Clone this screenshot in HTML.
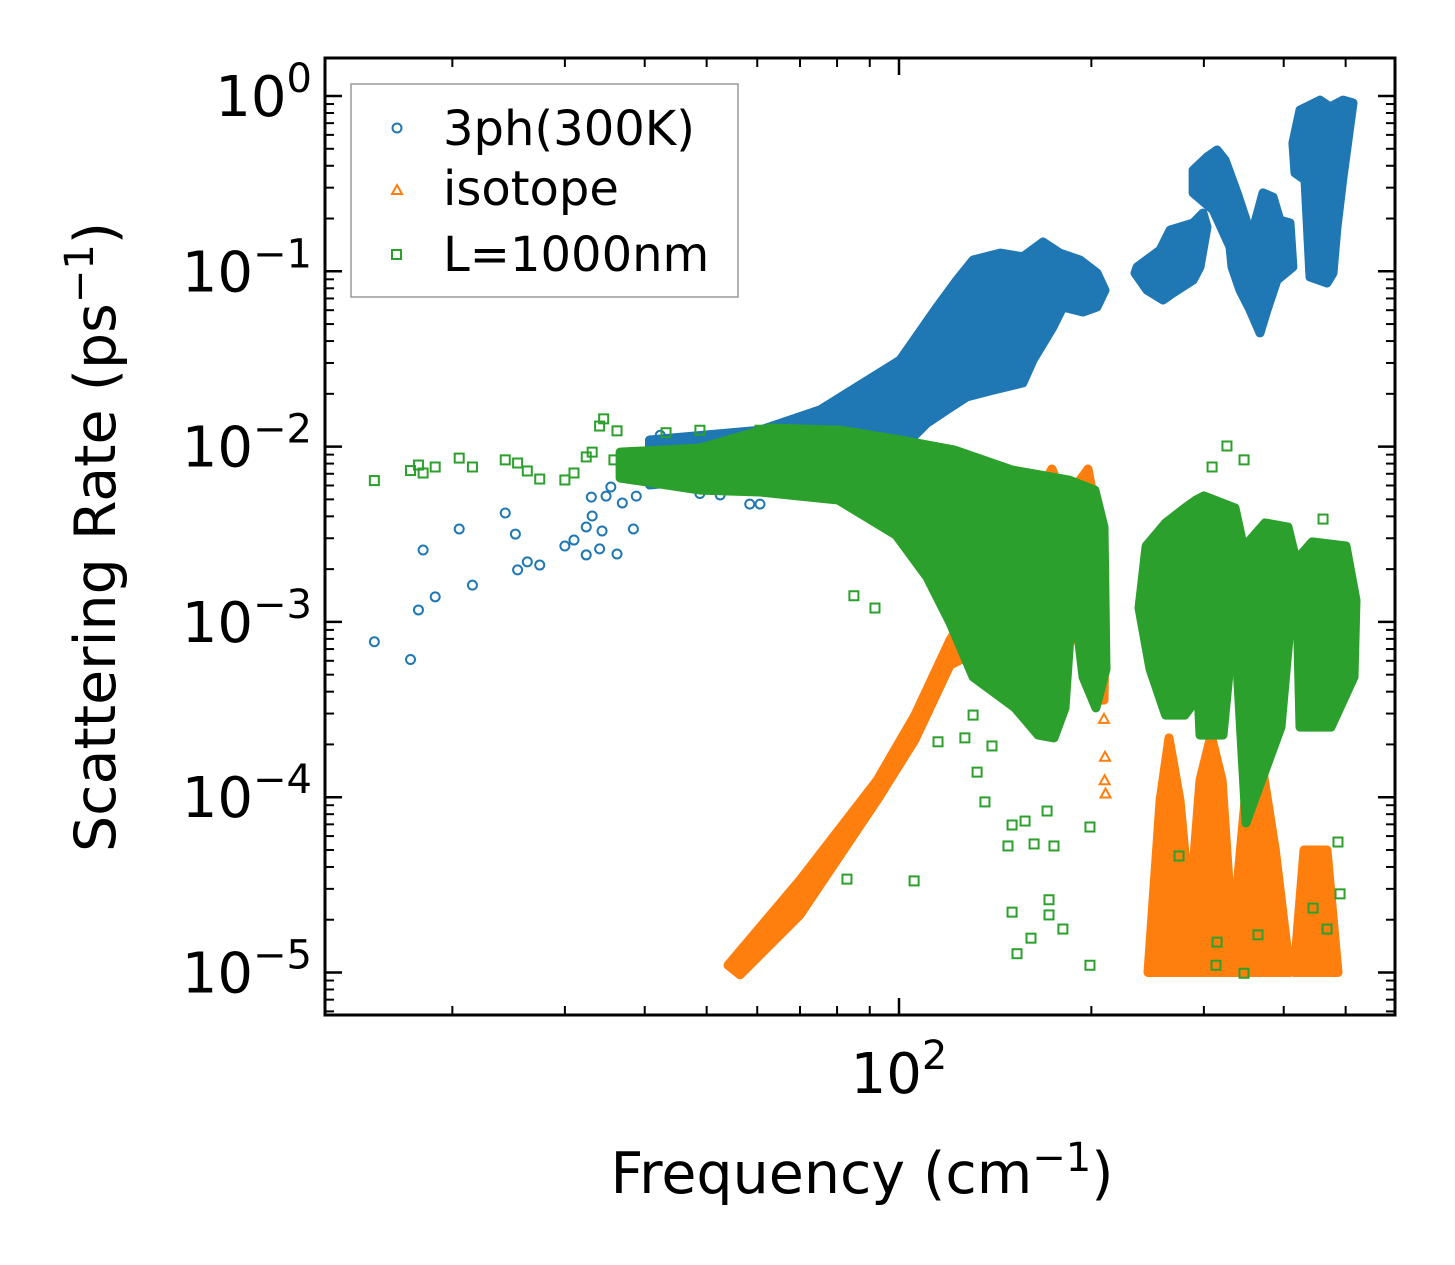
<!DOCTYPE html>
<html><head><meta charset="utf-8"><style>
html,body{margin:0;padding:0;background:#fff;}
svg{display:block;font-family:"DejaVu Sans","Liberation Sans",sans-serif;}
</style></head><body>
<svg id="chart" width="1455" height="1265" viewBox="0 0 1455 1265" xmlns="http://www.w3.org/2000/svg">
<rect width="1455" height="1265" fill="#fff"/>
<g id="marks"></g>
<g id="axes"></g>
<text x="862" y="1193" font-size="57" text-anchor="middle">Frequency (cm<tspan dy="-22" font-size="40">−1</tspan><tspan dy="22">)</tspan></text>
<text transform="translate(115,537) rotate(-90)" font-size="57" text-anchor="middle">Scattering Rate (ps<tspan dy="-22" font-size="40">−1</tspan><tspan dy="22">)</tspan></text>
<g>
<rect x="351" y="84" width="387" height="213" fill="#fff" fill-opacity="0.8" stroke="#999" stroke-width="1.5"/>
<circle cx="397" cy="128" r="4.5" fill="none" stroke="#1f77b4" stroke-width="2"/>
<text x="443" y="145" font-size="48">3ph(300K)</text>
<path d="M397,185 L402,194 L392,194 Z" fill="none" stroke="#ff7f0e" stroke-width="2"/>
<text x="443" y="205" font-size="48">isotope</text>
<rect x="392" y="250" width="9" height="9" fill="none" stroke="#2ca02c" stroke-width="2"/>
<text x="443" y="271" font-size="48">L=1000nm</text>
</g>
</svg>
<script>
// ---- data (frequency cm^-1, rate ps^-1) ----
const xTicksMajor = [100];
const xTickExp = ["2"];
const xTicksMinor = [20,30,40,50,60,70,80,90,200,300,400,500];
const yDecades = [0,-1,-2,-3,-4,-5];
const yTickExp = ["0","−1","−2","−3","−4","−5"];

const blueFreq = [15.1,17.2,18.0,17.7,18.8,20.5,21.5,24.2,25.1,25.3,26.2,27.4,30.0,31.0,32.4,32.4,33.1,34.0,34.3,36.2,38.4,33.0,34.8,35.4,36.9,38.8,42.3,45.5,48.8,52.5,56.4,58.4,60.6,42.3,47,40.2];
const blueRate = [7.7e-4,6.1e-4,2.57e-3,1.17e-3,1.39e-3,3.39e-3,1.62e-3,4.18e-3,3.17e-3,1.98e-3,2.2e-3,2.11e-3,2.71e-3,2.93e-3,2.41e-3,3.48e-3,4.02e-3,2.61e-3,3.30e-3,2.44e-3,3.39e-3,5.15e-3,5.22e-3,5.88e-3,4.77e-3,5.22e-3,1.16e-2,1.0e-2,5.4e-3,5.3e-3,9.5e-3,4.7e-3,4.7e-3,7.4e-3,7.8e-3,6.6e-3];

const blueMain = [[40.7,0.0109],[60.6,0.0124],[75.2,0.0162],[100.4,0.0312],[114.7,0.0626],[123.2,0.0891],[130.6,0.116],[144,0.127],[156.3,0.121],[168,0.147],[178.6,0.127],[192,0.116],[204.1,0.0978],[210.1,0.078],[204.1,0.0626],[194.1,0.0586],[180.5,0.0626],[174.2,0.0481],[162.1,0.0312],[156.3,0.0231],[140.3,0.021],[127.7,0.0192],[118.9,0.0162],[110.6,0.0136],[105.2,0.01135],[100.4,0.0102],[75.2,0.00896],[60.6,0.00735],[48.8,0.00645],[40.7,0.00604]];
const blueC2 = [[235.8,.1058],[256.2,.1323],[265.6,.172],[288.6,.1886],[299.1,.215],[303.4,.179],[295.8,.1058],[288.6,.0891],[268.5,.0752],[259.0,.0686],[244.4,.078],[234.1,.0978]];
const blueC3 = [[288.6,.378],[303.4,.449],[314.6,.492],[323.8,.431],[338.1,.280],[350.5,.1886],[358.1,.172],[371.2,.280],[384.8,.265],[394.6,.196],[409.1,.1886],[413.5,.1058],[390.4,.0891],[376.6,.0602],[367.2,.0445],[354.3,.0602],[341.7,.078],[332.0,.1058],[329.6,.1377],[310.1,.224],[288.6,.280]];
const blueC4 = [[413.5,.539],[424.2,.832],[455.9,.948],[472.6,.865],[495.3,.948],[513.5,.912],[495.3,.345],[484.7,.179],[477.8,.0978],[467.6,.0858],[439.7,.0928],[431.9,.332],[416.6,.364]];

const orangeDiag = [[54.0,.000011],[70.0,.0000337],[92.4,.000125],[105.9,.000294],[120.2,.00079],[144,.00225],[166.2,.00565],[173.5,.00745],[181.9,.00496],[192,.00645],[197.6,.00745],[206,.00334],[210.1,.00079],[209.3,.000358],[204.9,.000358],[192,.00079],[178.6,.00079],[144,.00079],[120.2,.000567],[105.9,.000212],[92.4,.000096],[70.0,.0000213],[56.4,.0000097]];
const orangeP1 = [[245.3,1e-5],[256.2,9.6e-5],[264.6,.000218],[275.3,9.6e-5],[291.6,1e-5]];
const orangeP2 = [[280.2,1e-5],[295.8,.000125],[307.9,.000226],[320.3,.000125],[335.6,1e-5]];
const orangeP3 = [[328.6,1e-5],[347.9,9.6e-5],[369.9,.000153],[388,5e-5],[409.1,1e-5]];
const orangeP4 = [[415.1,1e-5],[430.3,5e-5],[467.6,5e-5],[486.4,1e-5]];
const orangeFreq = [209.3,210.1,209.8,210.5];
const orangeRate = [2.8e-4,1.7e-4,1.25e-4,1.05e-4];

const greenMain = [[36.6,.0093],[48.8,.0098],[62.8,.01277],[80.9,.0124],[100.4,.0109],[121.9,.00957],[150.3,.00735],[184.5,.00645],[202.6,.00565],[209.3,.00348],[210.8,.000538],[203.3,.000323],[194.1,.000485],[187.2,.00148],[181.9,.000323],[174.8,.000218],[165.1,.000226],[151.9,.000323],[130.6,.000485],[120.2,.000986],[110.6,.0018],[98.9,.00313],[80.3,.00496],[60.6,.00551],[48.8,.00565],[36.6,.00662]];
const greenA = [[237.5,.0012],[243.6,.00271],[261.3,.00367],[280.2,.00447],[291.6,.00496],[291.6,.000358],[280.2,.000294],[261.3,.000294],[247.1,.000538]];
const greenB = [[291.6,.00496],[300.1,.00523],[335.6,.00447],[344.2,.00293],[321.4,.000226],[295.8,.000226],[291.6,.000692]];
const greenC = [[335.6,.000888],[354.3,.00293],[373.9,.00367],[406.2,.00348],[418.1,.00225],[396.1,.000251],[349.2,.0000713]];
const greenD = [[418.1,.00225],[443,.00286],[500.7,.00271],[519.1,.00133],[515.3,.000485],[474.3,.000251],[424.2,.000251]];
const greenFreq = [15.1,17.2,17.7,18.0,18.8,20.5,21.5,24.2,25.3,26.2,27.4,30.0,31.0,32.4,33.1,34.0,34.5,36.2,35.8,41.4,39.4,43.2,48.8,60.6,
 85.0,91.7,115.1,126.8,130.6,139.8,132.5,136.3,150.3,157.5,148.1,162.7,174.8,170.5,82.9,105.6,150.3,171.7,160.9,171.7,180.5,153.0,199.0,199.0,326.0,346.7,309.0,460.9,274.3,314.6,346.7,364.6,444.6,467.6,490.0,486.4,313.4];
const greenRate = [6.4e-3,7.3e-3,7.85e-3,7.07e-3,7.65e-3,8.6e-3,7.65e-3,8.4e-3,8.06e-3,7.26e-3,6.53e-3,6.45e-3,7.07e-3,8.73e-3,9.3e-3,1.31e-2,1.44e-2,1.23e-2,8.4e-3,8.73e-3,8.2e-3,1.2e-2,1.24e-2,1.24e-2,
 .00141,.0012,.000207,.000218,.000294,.000196,.000139,.000094,.0000694,.0000731,.0000527,.0000541,.0000527,.0000834,.0000341,.0000333,.0000221,.000026,.0000157,.0000213,.0000177,.0000128,.000011,.0000676,.01008,.0084,.00765,.00386,.0000462,.0000149,.0000099,.0000164,.0000233,.0000177,.0000281,.0000555,.000011];

// ---- axis functions ----
const PL=325, PR=1395, PT=58, PB=1015;
function X(f){return 899+(Math.log10(f)-2)*639;}
function Y(r){return 96-Math.log10(r)*175.3;}
const NS="http://www.w3.org/2000/svg";
const marks=document.getElementById('marks');
const axes=document.getElementById('axes');
function mk(tag,attrs,parent){const e=document.createElementNS(NS,tag);for(const k in attrs)e.setAttribute(k,attrs[k]);if(parent)parent.appendChild(e);return e;}

const defs=mk('defs',{},marks);
const cp=mk('clipPath',{id:'pc'},defs);
mk('rect',{x:PL,y:PT,width:PR-PL,height:PB-PT},cp);
const gB=mk('g',{'clip-path':'url(#pc)'},marks);


const gO=mk('g',{'clip-path':'url(#pc)'},marks);


const gG=mk('g',{'clip-path':'url(#pc)'},marks);



function cloud(g,pts,col,name){
  const d=pts.map((p,i)=>(i?'L':'M')+X(p[0]).toFixed(1)+','+Y(p[1]).toFixed(1)).join(' ')+'Z';
  const e=mk('path',{d:d,fill:col,stroke:col,'stroke-width':9,'stroke-linejoin':'round'},g);
  
  
}
cloud(gB,blueMain,'#1f77b4','cloud-3ph-main');
cloud(gB,blueC2,'#1f77b4','cloud-3ph-2');
cloud(gB,blueC3,'#1f77b4','cloud-3ph-3');
cloud(gB,blueC4,'#1f77b4','cloud-3ph-4');
for(let i=0;i<blueFreq.length;i++){
  const c=mk('circle',{cx:X(blueFreq[i]),cy:Y(blueRate[i]),r:4.5,fill:'none',stroke:'#1f77b4','stroke-width':2},gB);
  
  
}
cloud(gO,orangeDiag,'#ff7f0e','cloud-isotope-diag');
cloud(gO,orangeP1,'#ff7f0e','cloud-isotope-1');
cloud(gO,orangeP2,'#ff7f0e','cloud-isotope-2');
cloud(gO,orangeP3,'#ff7f0e','cloud-isotope-3');
cloud(gO,orangeP4,'#ff7f0e','cloud-isotope-4');
for(let i=0;i<orangeFreq.length;i++){
  const x=X(orangeFreq[i]),y=Y(orangeRate[i]);
  const t=mk('path',{d:`M${x},${y-5} L${x+5},${y+4} L${x-5},${y+4} Z`,fill:'none',stroke:'#ff7f0e','stroke-width':2},gO);
  
  
}
cloud(gG,greenMain,'#2ca02c','cloud-boundary-main');
cloud(gG,greenA,'#2ca02c','cloud-boundary-a');
cloud(gG,greenB,'#2ca02c','cloud-boundary-b');
cloud(gG,greenC,'#2ca02c','cloud-boundary-c');
cloud(gG,greenD,'#2ca02c','cloud-boundary-d');
for(let i=0;i<greenFreq.length;i++){
  const s=mk('rect',{x:X(greenFreq[i])-4.5,y:Y(greenRate[i])-4.5,width:9,height:9,fill:'none',stroke:'#2ca02c','stroke-width':2},gG);
  
  
}

// ---- axes ----
const frame=mk('rect',{x:PL,y:PT,width:PR-PL,height:PB-PT,fill:'none',stroke:'#000','stroke-width':3},axes);


function tick(x1,y1,x2,y2,w,name){const t=mk('line',{x1,y1,x2,y2,stroke:'#000','stroke-width':w},axes);}
function powLabel(x,y,exp,anchor,name){
  const t=mk('text',{x:x,y:y,'font-size':56,'text-anchor':anchor},axes);
  
  
  const a=mk('tspan',{},t); a.textContent='10';
  const b=mk('tspan',{dy:-24,'font-size':40},t); b.textContent=exp;
}
xTicksMajor.forEach((v,i)=>{
  const x=X(v);
  tick(x,PB,x,PB-17,2.5,'x-major-tick');
  tick(x,PT,x,PT+17,2.5,'x-major-tick-top');
  powLabel(x,1093,xTickExp[i],'middle','x-tick-label');
});
xTicksMinor.forEach(v=>{
  const x=X(v);
  tick(x,PB,x,PB-9,2,'x-minor-tick');
  tick(x,PT,x,PT+9,2,'x-minor-tick-top');
});
yDecades.forEach((d,i)=>{
  const y=Y(Math.pow(10,d));
  tick(PL,y,PL+17,y,2.5,'y-major-tick');
  tick(PR,y,PR-17,y,2.5,'y-major-tick-right');
  powLabel(312,y+20,yTickExp[i],'end','y-tick-label');
});
for(let d=-6;d<=0;d++){
  for(let m=2;m<=9;m++){
    const y=Y(m*Math.pow(10,d));
    if(y<PT||y>PB)continue;
    tick(PL,y,PL+9,y,2,'y-minor-tick');
    tick(PR,y,PR-9,y,2,'y-minor-tick-right');
  }
}
</script>
</body></html>
